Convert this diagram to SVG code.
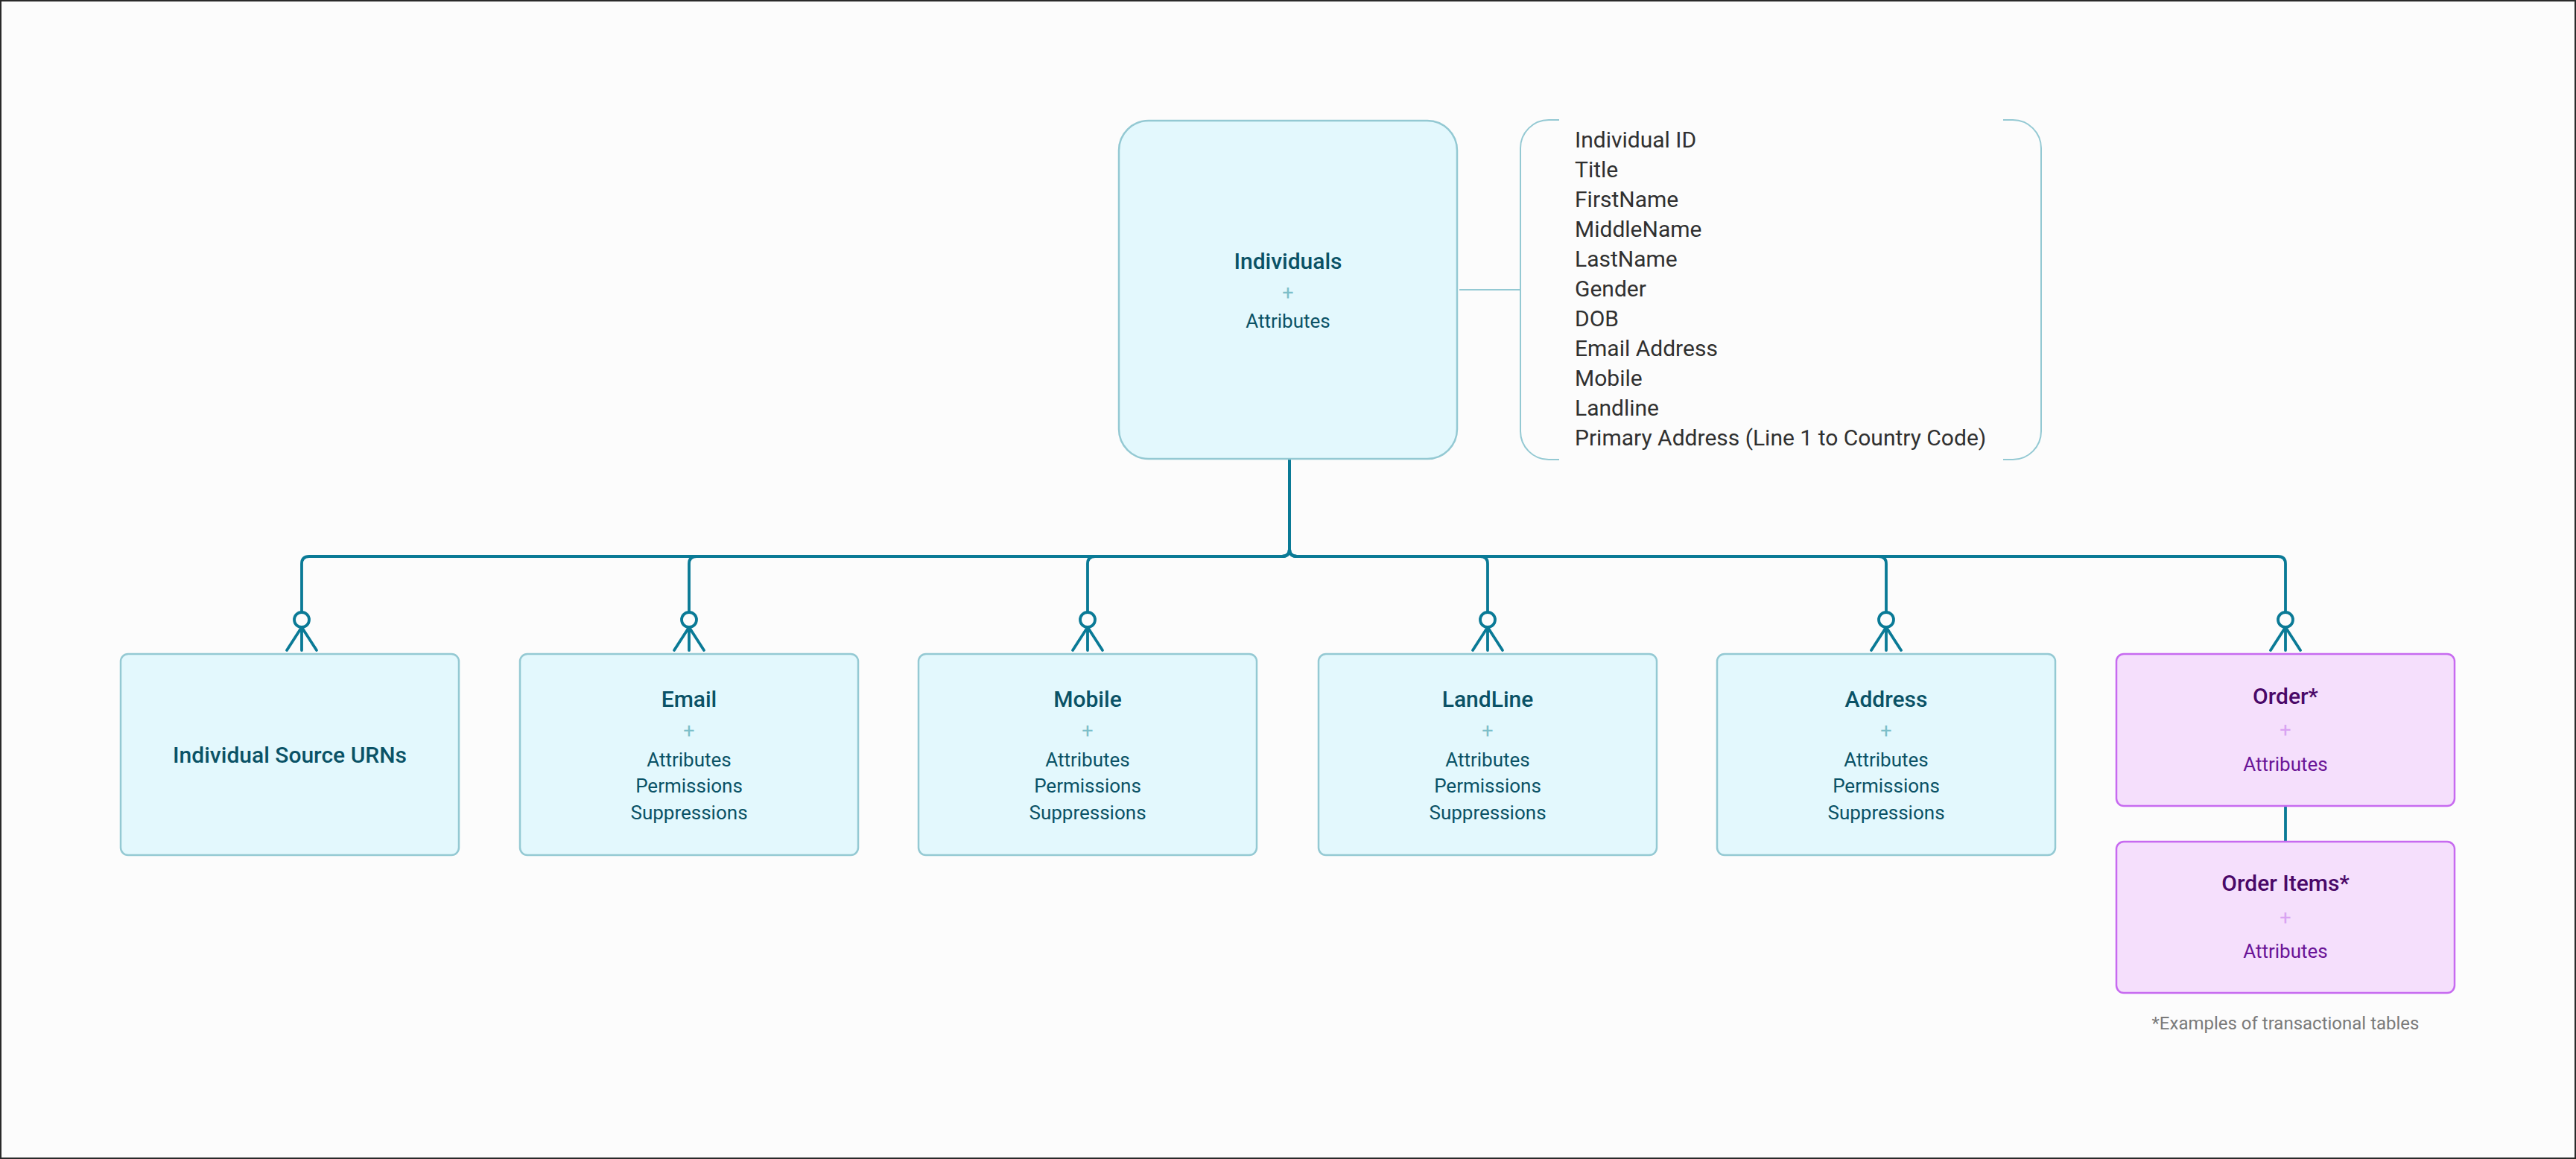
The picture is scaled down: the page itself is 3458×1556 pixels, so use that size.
<svg xmlns="http://www.w3.org/2000/svg" xmlns:xlink="http://www.w3.org/1999/xlink" width="3458" height="1556" viewBox="0 0 3458 1556">
<style>
.bg{fill:#fcfcfc;stroke:#2a2a2a;stroke-width:2}
.box{fill:#e3f8fd;stroke:#94c9d3;stroke-width:2.5}
.pbox{fill:#f5dffc;stroke:#c76af0;stroke-width:2.5}
.t{font-family:Roboto,"Liberation Sans",sans-serif;text-anchor:middle}
.title{font-size:30px;font-weight:500;fill:#0a5266}
.plus{font-size:27px;font-weight:400;fill:#7dbfc9}
.attr{font-size:26px;font-weight:400;fill:#0a5266}
.ptitle{font-size:30px;font-weight:500;fill:#4a0868}
.pplus{font-size:27px;font-weight:400;fill:#d9a3f2}
.pattr{font-size:26px;font-weight:400;fill:#6a1497}
.list{font-family:Roboto,"Liberation Sans",sans-serif;font-size:30px;font-weight:400;fill:#303030}
.note{font-family:Roboto,"Liberation Sans",sans-serif;font-size:24px;fill:#7a7a7a;text-anchor:middle}
.conn{fill:none;stroke:#0a7a96;stroke-width:3.8;stroke-linecap:round;stroke-linejoin:round}
.thin{fill:none;stroke:#94c9d3;stroke-width:2}
</style>
<defs>
<g id="crow" class="conn">
<circle cx="0" cy="0" r="10" fill="#fcfcfc"/>
<path d="M0,10 L-20,41 M0,10 L0,41 M0,10 L20,41"/>
</g>
</defs>
<rect class="bg" x="1" y="1" width="3456" height="1554"/>

<g id="connectors">
<path class="conn" d="M1731,616 V737 Q1731,747 1721,747 H415 Q405,747 405,757 V822"/>
<path class="conn" d="M1731,616 V737 Q1731,747 1721,747 H935 Q925,747 925,757 V822"/>
<path class="conn" d="M1731,616 V737 Q1731,747 1721,747 H1470 Q1460,747 1460,757 V822"/>
<path class="conn" d="M1731,616 V737 Q1731,747 1741,747 H1987 Q1997,747 1997,757 V822"/>
<path class="conn" d="M1731,616 V737 Q1731,747 1741,747 H2522 Q2532,747 2532,757 V822"/>
<path class="conn" d="M1731,616 V737 Q1731,747 1741,747 H3058 Q3068,747 3068,757 V822"/>
<use xlink:href="#crow" x="405" y="832"/>
<use xlink:href="#crow" x="925" y="832"/>
<use xlink:href="#crow" x="1460" y="832"/>
<use xlink:href="#crow" x="1997" y="832"/>
<use xlink:href="#crow" x="2532" y="832"/>
<use xlink:href="#crow" x="3068" y="832"/>
<path class="conn" d="M3068,1083 V1129" stroke-linecap="butt"/>
<path class="thin" d="M1959,389 H2041"/>
</g>

<g id="individuals">
<rect class="box" x="1502" y="162" width="454" height="454" rx="40"/>
<text class="t title" x="1729" y="361">Individuals</text>
<text class="t plus" x="1729" y="402">+</text>
<text class="t attr" x="1729" y="440">Attributes</text>
</g>

<g id="attribute-list">
<path class="thin" d="M2093,161 H2079 A38,38 0 0 0 2041,199 V579 A38,38 0 0 0 2079,617 H2093"/>
<path class="thin" d="M2689,161 H2702 A38,38 0 0 1 2740,199 V579 A38,38 0 0 1 2702,617 H2689"/>
<text class="list" x="2114" y="198">Individual ID</text>
<text class="list" x="2114" y="238">Title</text>
<text class="list" x="2114" y="278">FirstName</text>
<text class="list" x="2114" y="318">MiddleName</text>
<text class="list" x="2114" y="358">LastName</text>
<text class="list" x="2114" y="398">Gender</text>
<text class="list" x="2114" y="438">DOB</text>
<text class="list" x="2114" y="478">Email Address</text>
<text class="list" x="2114" y="518">Mobile</text>
<text class="list" x="2114" y="558">Landline</text>
<text class="list" x="2114" y="598">Primary Address (Line 1 to Country Code)</text>
</g>

<g id="source-urns">
<rect class="box" x="162" y="878" width="454" height="270" rx="10"/>
<text class="t title" x="389" y="1024">Individual Source URNs</text>
</g>

<g id="email">
<rect class="box" x="698" y="878" width="454" height="270" rx="10"/>
<text class="t title" x="925" y="949">Email</text>
<text class="t plus" x="925" y="990">+</text>
<text class="t attr" x="925" y="1029">Attributes</text>
<text class="t attr" x="925" y="1064">Permissions</text>
<text class="t attr" x="925" y="1100">Suppressions</text>
</g>

<g id="mobile">
<rect class="box" x="1233" y="878" width="454" height="270" rx="10"/>
<text class="t title" x="1460" y="949">Mobile</text>
<text class="t plus" x="1460" y="990">+</text>
<text class="t attr" x="1460" y="1029">Attributes</text>
<text class="t attr" x="1460" y="1064">Permissions</text>
<text class="t attr" x="1460" y="1100">Suppressions</text>
</g>

<g id="landline">
<rect class="box" x="1770" y="878" width="454" height="270" rx="10"/>
<text class="t title" x="1997" y="949">LandLine</text>
<text class="t plus" x="1997" y="990">+</text>
<text class="t attr" x="1997" y="1029">Attributes</text>
<text class="t attr" x="1997" y="1064">Permissions</text>
<text class="t attr" x="1997" y="1100">Suppressions</text>
</g>

<g id="address">
<rect class="box" x="2305" y="878" width="454" height="270" rx="10"/>
<text class="t title" x="2532" y="949">Address</text>
<text class="t plus" x="2532" y="990">+</text>
<text class="t attr" x="2532" y="1029">Attributes</text>
<text class="t attr" x="2532" y="1064">Permissions</text>
<text class="t attr" x="2532" y="1100">Suppressions</text>
</g>

<g id="order">
<rect class="pbox" x="2841" y="878" width="454" height="204" rx="10"/>
<text class="t ptitle" x="3068" y="945">Order*</text>
<text class="t pplus" x="3068" y="989">+</text>
<text class="t pattr" x="3068" y="1035">Attributes</text>
</g>

<g id="order-items">
<rect class="pbox" x="2841" y="1130" width="454" height="203" rx="10"/>
<text class="t ptitle" x="3068" y="1196">Order Items*</text>
<text class="t pplus" x="3068" y="1241">+</text>
<text class="t pattr" x="3068" y="1286">Attributes</text>
</g>

<text class="note" x="3068" y="1382">*Examples of transactional tables</text>
</svg>
